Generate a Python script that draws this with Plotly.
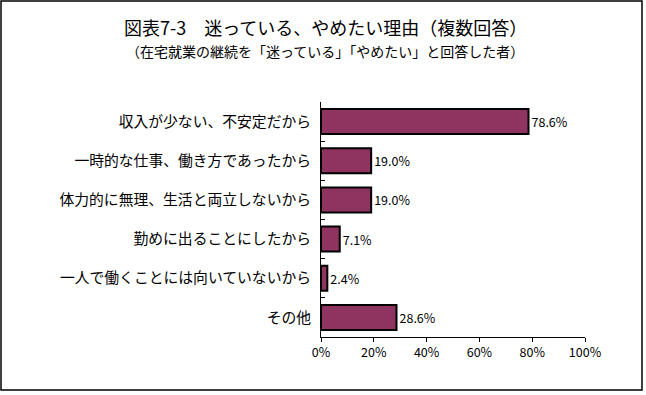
import plotly.graph_objects as go

categories = [
    "収入が少ない、不安定だから",
    "一時的な仕事、働き方であったから",
    "体力的に無理、生活と両立しないから",
    "勤めに出ることにしたから",
    "一人で働くことには向いていないから",
    "その他",
]
values = [78.6, 19.0, 19.0, 7.1, 2.4, 28.6]
x_ticks = [0, 20, 40, 60, 80, 100]
x_tick_labels = ["0%", "20%", "40%", "60%", "80%", "100%"]

title = "図表7-3　迷っている、やめたい理由（複数回答）"
subtitle = "（在宅就業の継続を「迷っている」「やめたい」と回答した者）"

W, H = 646, 395
L, R, T, B = 321, 61, 102, 58
pw, ph = W - L - R, H - T - B

font = "Noto Sans CJK JP"

fig = go.Figure(
    go.Bar(
        y=categories,
        x=values,
        orientation="h",
        marker=dict(color="#8f3360", line=dict(color="black", width=2)),
        text=[f"{v:.1f}%" for v in values],
        textposition="outside",
        textfont=dict(family=font, size=12.5, color="black"),
        cliponaxis=False,
        hoverinfo="skip",
    )
)

fig.update_layout(
    width=W,
    height=H,
    margin=dict(l=L, r=R, t=T, b=B),
    paper_bgcolor="white",
    plot_bgcolor="white",
    bargap=0.36,
    showlegend=False,
    font=dict(family=font, color="black"),
    xaxis=dict(
        range=[0, 100],
        tickvals=x_ticks,
        ticktext=x_tick_labels,
        showgrid=False,
        zeroline=False,
        showline=True,
        linecolor="black",
        linewidth=1,
        ticks="outside",
        ticklen=4,
        tickcolor="black",
        tickfont=dict(size=12.5),
        automargin=False,
        fixedrange=True,
    ),
    yaxis=dict(
        autorange="reversed",
        showgrid=False,
        showline=True,
        linecolor="black",
        linewidth=1,
        ticks="inside",
        tickson="boundaries",
        ticklen=4,
        tickcolor="black",
        tickfont=dict(size=14.8),
        ticklabelstandoff=6,
        automargin=False,
        fixedrange=True,
    ),
    annotations=[
        dict(text=title, xref="paper", yref="paper",
             x=(325 - L) / pw, y=(H - B - 27) / ph, xanchor="center", yanchor="middle",
             showarrow=False, font=dict(size=18, family=font)),
        dict(text=subtitle, xref="paper", yref="paper",
             x=(325 - L) / pw, y=(H - B - 51) / ph, xanchor="center", yanchor="middle",
             showarrow=False, font=dict(size=14, family=font)),
    ],
    shapes=[
        dict(type="rect", xref="paper", yref="paper",
             x0=(1 - L) / pw, x1=(642 - L) / pw,
             y0=(H - B - 390) / ph, y1=(H - B - 1) / ph,
             line=dict(color="black", width=1.5), fillcolor="rgba(0,0,0,0)"),
    ],
)

fig.write_html(
    "out.html",
    config={"displayModeBar": False},
    post_script="document.body.style.margin='0';document.body.style.padding='0';",
)
